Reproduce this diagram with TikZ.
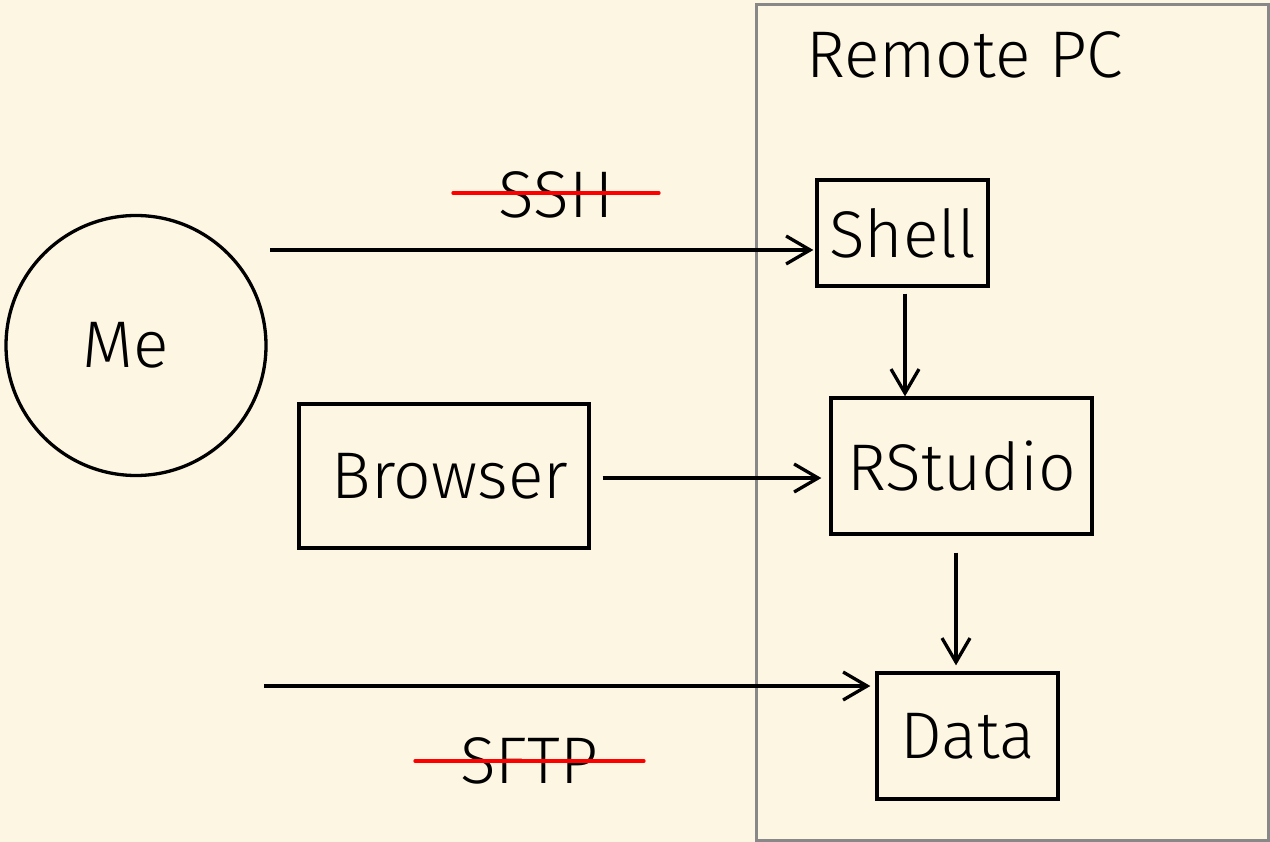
\documentclass[tikz,border=0pt]{standalone}
\usepackage{fontspec}
\setmainfont{Fira Sans Light}
\usetikzlibrary{arrows.meta}
\definecolor{bg}{HTML}{FDF6E3}
\definecolor{frame}{HTML}{888888}
\definecolor{strike}{HTML}{FF0000}
\begin{document}
\begin{tikzpicture}[x=1pt,y=-1pt,
  lbl/.style={font=\fontsize{66}{78}\selectfont, inner sep=0pt},
  box/.style={draw=black, line width=3.3pt, inner sep=0pt, font=\fontsize{66}{78}\selectfont},
  conn/.style={draw=black, line width=3.3pt, -{Straight Barb[length=24pt,width=28pt]}},
  strikeline/.style={draw=strike, line width=3.3pt, line cap=round}]
\useasboundingbox (0,0) rectangle (1270,842);
\fill[bg] (0,0) rectangle (1270,842);
% remote PC frame
\node[draw=frame, line width=3pt, minimum width=512pt, minimum height=835pt, inner sep=0pt] (remote) at (1012,422.5) {};
\node[lbl, anchor=base west] (title) at (806,78) {Remote PC};
% me
\node[draw=black, line width=3.3pt, circle, minimum size=260pt, inner sep=0pt, font=\fontsize{66}{78}\selectfont] (me) at (136,345.5) {Me\kern20pt};
% boxes
\node[box, minimum width=171pt, minimum height=106pt] (shell) at (902.5,233) {Shell};
\node[box, minimum width=261pt, minimum height=136pt] (rstudio) at (961.5,466) {RStudio};
\node[box, minimum width=181pt, minimum height=126pt] (data) at (967.5,736) {Data};
\node[box, minimum width=290pt, minimum height=144pt] (browser) at (444,476) {\kern12pt Browser};
% labels
\node[lbl, anchor=base] (ssh) at (556,218) {SSH};
\node[lbl, anchor=base] (sftp) at (529,783) {SFTP};
\draw[strikeline] (453,193) -- (659,193);
\draw[strikeline] (415,761) -- (644,761);
% connectors
\coordinate (sshstart) at (270,250);
\coordinate (sftpstart) at (264,686);
\draw[conn, shorten >=2pt] (sshstart) -- (sshstart -| shell.west);
\draw[conn, shorten <=6pt] ([xshift=2.5pt]shell.south) -- ([xshift=2.5pt]shell.south |- rstudio.north);
\draw[conn, shorten <=12pt, shorten >=8pt] ([yshift=-2pt]browser.east) -- ([yshift=-2pt]browser.east -| rstudio.west);
\draw[conn, shorten <=17pt, shorten >=6pt] ([xshift=-5.5pt]rstudio.south) -- ([xshift=-5.5pt]rstudio.south |- data.north);
\draw[conn, shorten >=5pt] (sftpstart) -- (sftpstart -| data.west);
\end{tikzpicture}
\end{document}
